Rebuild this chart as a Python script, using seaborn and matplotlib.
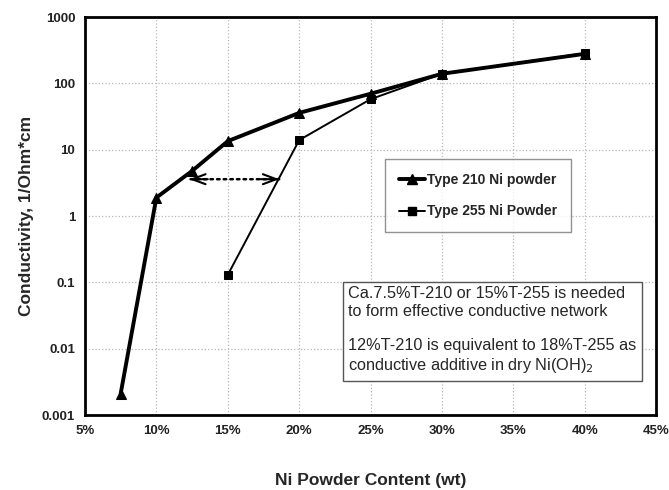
import pandas as pd
import matplotlib
import matplotlib.pyplot as plt
import seaborn as sns
from matplotlib.ticker import FuncFormatter, FixedLocator
from matplotlib.lines import Line2D

matplotlib.use('Agg')

# data
x_210 = [7.5, 10, 12.5, 15, 20, 25, 30, 40]
y_210 = [0.0021, 1.9, 4.8, 13.5, 36, 70, 140, 280]
x_255 = [15, 20, 25, 30, 40]
y_255 = [0.13, 14, 58, 140, 285]
label_210 = 'Type 210 Ni powder'
label_255 = 'Type 255 Ni Powder'
y_ticks = [0.001, 0.01, 0.1, 1, 10, 100, 1000]
y_tick_labels = ['0.001', '0.01', '0.1', '1', '10', '100', '1000']
x_ticks = [5, 10, 15, 20, 25, 30, 35, 40, 45]

df210 = pd.DataFrame({'x': x_210, 'y': y_210})
df255 = pd.DataFrame({'x': x_255, 'y': y_255})

sns.set_theme(style="white")
plt.rcParams['font.family'] = ['Liberation Sans', 'DejaVu Sans']

fig = plt.figure(figsize=(6.69, 4.90), dpi=100)
ax = fig.add_axes([0.127, 0.153, 0.854, 0.812])

sns.lineplot(data=df210, x='x', y='y', color='black', lw=2.8, marker='^',
             markersize=7, markeredgecolor='black', ax=ax)
sns.lineplot(data=df255, x='x', y='y', color='black', lw=1.4, marker='s',
             markersize=5.5, markeredgecolor='black', ax=ax)

ax.set_yscale('log')
ax.set_ylim(0.001, 1000)
ax.set_xlim(5, 45)
ax.yaxis.set_major_locator(FixedLocator(y_ticks))
ax.yaxis.set_major_formatter(FuncFormatter(lambda v, p: y_tick_labels[y_ticks.index(v)] if v in y_ticks else ''))
ax.yaxis.set_minor_locator(FixedLocator([]))
ax.set_xticks(x_ticks)
ax.xaxis.set_major_formatter(FuncFormatter(lambda v, p: f"{v:.0f}%"))
ax.tick_params(axis='both', labelsize=9.5, length=0, pad=7, labelcolor='#222222')
for lab in ax.get_xticklabels() + ax.get_yticklabels():
    lab.set_fontweight('bold')

ax.grid(True, color='#b8b8b8', linestyle=':', linewidth=0.9)
for s in ax.spines.values():
    s.set_color('black')
    s.set_linewidth(2)

ax.set_xlabel('Ni Powder Content (wt)', fontsize=12.5, fontweight='bold', labelpad=26)
ax.set_ylabel('Conductivity, 1/Ohm*cm', fontsize=12.5, fontweight='bold', labelpad=6)

# dotted double arrow with open chevron heads
ax.annotate('', xy=(12.3, 3.6), xytext=(18.6, 3.6),
            arrowprops=dict(arrowstyle='-', linestyle=':', lw=1.8, color='black',
                            shrinkA=0, shrinkB=0))
for tip, tail in [(12.3, 13.6), (18.6, 17.3)]:
    ax.annotate('', xy=(tip, 3.6), xytext=(tail, 3.6),
                arrowprops=dict(arrowstyle='->,head_length=0.8,head_width=0.3', lw=1.5,
                                color='black', shrinkA=0, shrinkB=0))

# legend
handles = [Line2D([], [], color='black', lw=2.8, marker='^', markersize=7),
           Line2D([], [], color='black', lw=1.4, marker='s', markersize=5.5)]
leg = ax.legend(handles, [label_210, label_255], loc='upper left',
                bbox_to_anchor=(0.525, 0.643), frameon=True, fancybox=False,
                prop={'weight': 'bold', 'size': 10}, handlelength=1.9,
                handletextpad=0.1, labelspacing=1.25, borderpad=1.0,
                borderaxespad=0)
leg.get_frame().set_edgecolor('#777777')
leg.get_frame().set_linewidth(1)

note = ('Ca.7.5%T-210 or 15%T-255 is needed\nto form effective conductive network\n\n'
        '12%T-210 is equivalent to 18%T-255 as\nconductive additive in dry Ni(OH)$_2$')
ax.text(0.461, 0.212, note, transform=ax.transAxes, fontsize=11.7, va='center', ha='left',
        linespacing=1.2,
        bbox=dict(boxstyle='square,pad=0.35', fc='white', ec='#555555', lw=1))

plt.savefig('out.png', dpi=100)
